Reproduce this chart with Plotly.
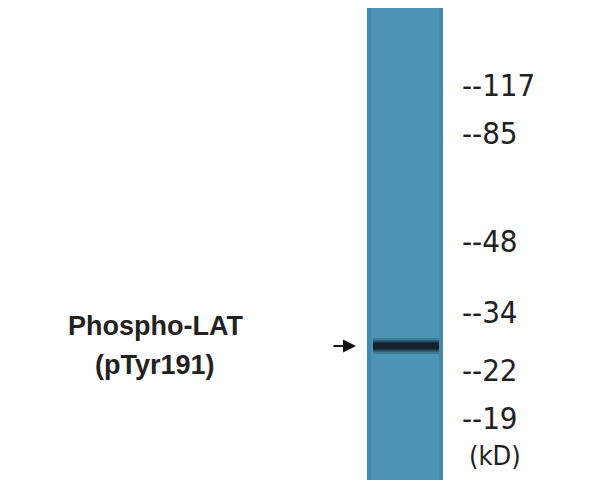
import plotly.graph_objects as go

# ladder markers (kD) and where they sit on the blot (pixel rows)
marker_labels = ['117', '85', '48', '34', '22', '19']
marker_rows = [85, 133, 241, 312, 370, 418]

# lane and detected band
lane_name = ['lane 1']
band_row = [346]
band_label = ['Phospho-LAT', '(pTyr191)']

fig = go.Figure()

# the lane itself, full height
fig.add_trace(go.Bar(x=[405], y=[480], base=[0], width=[76],
                     marker=dict(color='rgb(76,148,182)', line=dict(width=0)),
                     name=lane_name[0], hoverinfo='skip'))
# soft darker edge streaks
fig.add_trace(go.Bar(x=[369, 441], y=[480, 480], base=[0, 0], width=[4, 4],
                     marker=dict(color='rgba(60,128,160,0.6)', line=dict(width=0)),
                     hoverinfo='skip'))
# the band
for w, c in [(16, 'rgba(30,60,80,0.3)'), (11, 'rgba(25,45,60,0.6)'), (7, 'rgb(20,32,42)')]:
    fig.add_trace(go.Scatter(x=[373, 439], y=[band_row[0], band_row[0]], mode='lines',
                             line=dict(color=c, width=w), hoverinfo='skip'))

ann = []
for lab, r in zip(marker_labels, marker_rows):
    ann.append(dict(x=460, y=r, text='--' + lab, showarrow=False, xanchor='left',
                    font=dict(family='DejaVu Sans Condensed, Liberation Sans', size=31, color='#222')))
ann.append(dict(x=467, y=455, text='(kD)', showarrow=False, xanchor='left',
                font=dict(family='DejaVu Sans Condensed, Liberation Sans', size=27, color='#222')))
ann.append(dict(x=155, y=326, text='<b>' + band_label[0] + '</b>', showarrow=False,
                font=dict(family='Liberation Sans, Arial', size=27, color='#222')))
ann.append(dict(x=155, y=365, text='<b>' + band_label[1] + '</b>', showarrow=False,
                font=dict(family='Liberation Sans, Arial', size=27, color='#222')))
ann.append(dict(x=356, y=band_row[0], ax=332, ay=band_row[0], xref='x', yref='y',
                axref='x', ayref='y', showarrow=True, arrowhead=2, arrowsize=1.3,
                arrowwidth=2, arrowcolor='#111', text=''))

fig.update_layout(
    width=602, height=480, margin=dict(l=0, r=0, t=0, b=0),
    paper_bgcolor='white', plot_bgcolor='white', showlegend=False,
    barmode='overlay', annotations=ann,
    xaxis=dict(range=[8, 610], visible=False, fixedrange=True),
    yaxis=dict(range=[488, 8], visible=False, fixedrange=True),
)
fig.write_html('out.html')
